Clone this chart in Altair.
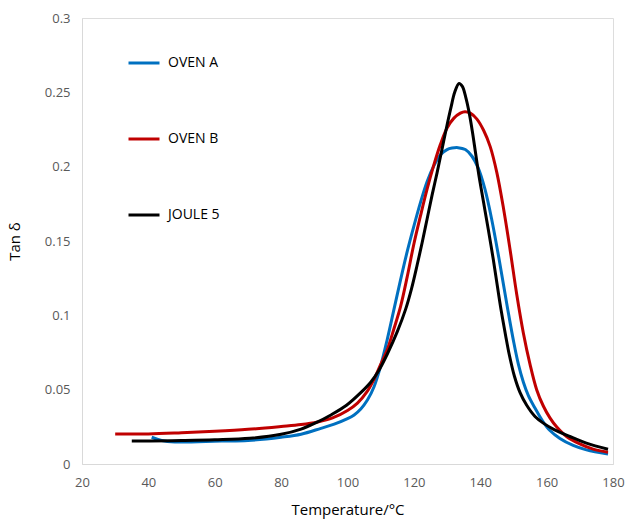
import altair as alt
import pandas as pd

series_names = ["OVEN A", "OVEN B", "JOULE 5"]
series_colors = ["#0070C0", "#C00000", "#000000"]

oven_a_x = [41, 44, 48, 55, 62, 70, 80, 86, 92, 96, 100, 102, 104, 106, 108, 110, 112,
            114, 116, 118, 120, 122, 124, 126, 128, 130, 131.5, 133.3,
            135.5, 137.5, 139.4, 141.4, 143.5, 145.5, 147.2, 148.6, 150, 151.5, 153, 154.5,
            156.4, 158.9, 161, 164, 168, 172, 178.5]
oven_a_y = [0.0180, 0.0158, 0.0148, 0.0150, 0.0154, 0.0158, 0.0180, 0.0200, 0.0240, 0.0268,
            0.0305, 0.033, 0.037, 0.043, 0.052, 0.066, 0.084,
            0.104, 0.124, 0.143, 0.160, 0.176, 0.190, 0.2005, 0.208, 0.2115, 0.2125, 0.2128,
            0.2115, 0.207, 0.199, 0.185, 0.164, 0.140, 0.118, 0.100, 0.083, 0.067, 0.055, 0.046,
            0.038, 0.0285, 0.0225, 0.0172, 0.0125, 0.0095, 0.0067]

oven_b_x = [30, 40, 50, 60, 70, 80, 86, 91, 95.5, 100, 103, 106, 108, 110, 112, 114, 116,
            118, 120, 122, 124, 126, 128, 130, 132, 134, 135.4, 137, 139, 141, 143, 145, 147,
            149, 151, 153, 155, 157, 159, 161, 163, 166, 170, 174, 178.5]
oven_b_y = [0.0202, 0.0202, 0.0210, 0.0220, 0.0233, 0.0252, 0.0265, 0.0283, 0.031, 0.036,
            0.041, 0.049, 0.057, 0.067, 0.077, 0.091, 0.106,
            0.126, 0.148, 0.167, 0.185, 0.201, 0.215, 0.226, 0.2325, 0.236, 0.237, 0.236,
            0.232, 0.2245, 0.2135, 0.196, 0.172, 0.144, 0.114, 0.088, 0.067, 0.050, 0.039,
            0.031, 0.025, 0.0185, 0.0135, 0.010, 0.0079]

joule_x = [35, 40.5, 50, 60, 70.6, 80, 86, 90.7, 95, 99.7, 104, 107, 109.2, 112, 115, 117.5,
           119.3, 121, 122.5, 124, 125.5, 127, 128.5, 130, 131.2, 132.3, 133.6, 134.6,
           135.6, 136.6, 137.6, 138.6, 139.6, 141, 142.4, 143.9, 145.2, 146.4, 147.6, 148.8,
           150.3, 152, 154, 156.5, 159, 162, 167, 172, 178.5]
joule_y = [0.0155, 0.0155, 0.0158, 0.0163, 0.0173, 0.0200, 0.0235, 0.0280, 0.033, 0.0395,
           0.048, 0.055, 0.062, 0.074, 0.089, 0.104,
           0.118, 0.134, 0.149, 0.165, 0.181, 0.196, 0.212, 0.228, 0.240, 0.250, 0.256,
           0.254, 0.247, 0.237, 0.224, 0.209, 0.194, 0.176, 0.158, 0.138, 0.119, 0.102,
           0.087, 0.073, 0.059, 0.048, 0.0395, 0.032, 0.0275, 0.0235, 0.0185, 0.014, 0.0099]

x_ticks = [20, 40, 60, 80, 100, 120, 140, 160, 180]
y_ticks = [0, 0.05, 0.1, 0.15, 0.2, 0.25, 0.3]

frames = []
for name, xs, ys in [("OVEN A", oven_a_x, oven_a_y),
                     ("OVEN B", oven_b_x, oven_b_y),
                     ("JOULE 5", joule_x, joule_y)]:
    frames.append(pd.DataFrame({"T": xs, "tan": ys, "series": name, "order": range(len(xs))}))
df = pd.concat(frames, ignore_index=True)

FONT = "Open Sans"

chart = alt.Chart(df).mark_line(strokeWidth=3, interpolate="catmull-rom").encode(
    x=alt.X("T:Q",
            scale=alt.Scale(domain=[20, 180], nice=False),
            axis=alt.Axis(values=x_ticks, title="Temperature/°C", grid=False, ticks=False,
                          labelFlush=False,
                          domainColor="#d9d9d9", labelColor="#595959", labelFontSize=13,
                          labelFont=FONT, labelPadding=12, titleFont=FONT, titleFontSize=15,
                          titleFontWeight="normal", titleColor="#000000", titlePadding=13)),
    y=alt.Y("tan:Q",
            scale=alt.Scale(domain=[0, 0.3], nice=False),
            axis=alt.Axis(values=y_ticks, title="Tan δ", format=".2~f", grid=False, ticks=False,
                          labelFlush=False,
                          domainColor="#d9d9d9", labelColor="#595959", labelFontSize=13,
                          labelFont=FONT, labelPadding=12, titleFont=FONT, titleFontSize=15,
                          titleFontWeight="normal", titleColor="#000000", titlePadding=22)),
    color=alt.Color("series:N",
                    scale=alt.Scale(domain=series_names, range=series_colors),
                    legend=alt.Legend(title=None, orient="none", legendX=45, legendY=28,
                                      symbolType="stroke", symbolSize=961,
                                      symbolStrokeWidth=3, labelFont=FONT, labelFontSize=14,
                                      labelColor="#000000", labelOffset=7, rowPadding=52,
                                      labelLimit=200)),
    order="order:Q",
).properties(
    width=531, height=446,
    autosize=alt.AutoSizeParams(type="none"),
    padding={"left": 82, "top": 18, "right": 13, "bottom": 55},
).configure_view(stroke=None).configure(background="white")

chart.save("out.html", embed_options={"renderer": "svg", "actions": False})
